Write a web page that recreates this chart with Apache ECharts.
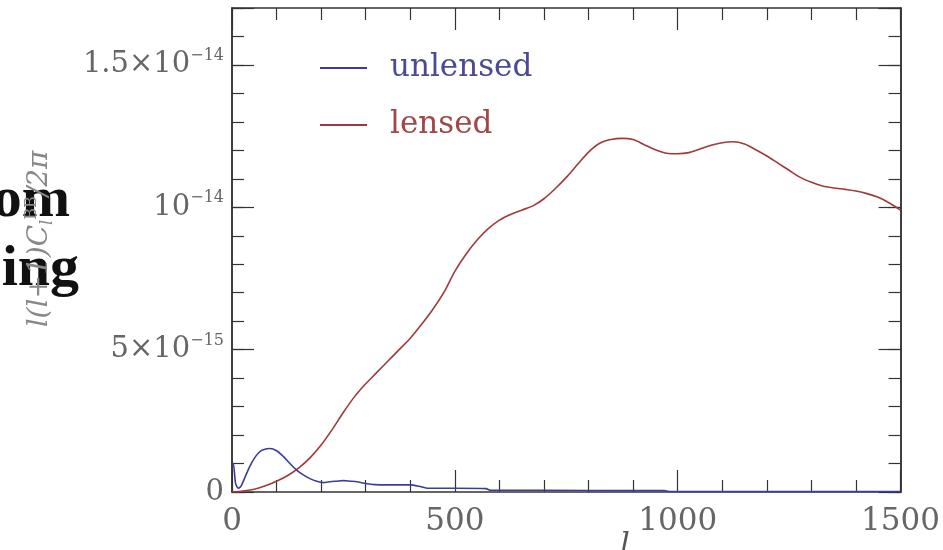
<!DOCTYPE html>
<html>
<head>
<meta charset="utf-8">
<script src="https://cdn.jsdelivr.net/npm/echarts@6/dist/echarts.min.js"></script>
</head>
<body style="margin:0;background:#fff">
<div id="main" style="width:943px;height:550px;"></div>
<script>
// values in units of 1e-15
var lensedL = [0, 25, 50, 75, 100, 125, 150, 175, 200, 225, 250, 275, 300, 325, 350, 375, 400,
    425, 450, 475, 500, 525, 550, 575, 600, 625, 650, 675, 700, 725, 750, 775, 800,
    825, 850, 875, 900, 925, 950, 975, 1000, 1025, 1050, 1075, 1100, 1125, 1150, 1175, 1200,
    1225, 1250, 1275, 1300, 1325, 1350, 1375, 1400, 1425, 1450, 1475, 1500];
var lensed = [0, 0.03, 0.1, 0.22, 0.38, 0.58, 0.85, 1.2, 1.65, 2.2, 2.8, 3.35, 3.8, 4.2, 4.6, 5.0, 5.4,
    5.88, 6.4, 7.0, 7.75, 8.35, 8.85, 9.25, 9.55, 9.75, 9.9, 10.05, 10.3, 10.65, 11.05, 11.5, 11.94,
    12.25, 12.38, 12.42, 12.38, 12.2, 12.02, 11.9, 11.88, 11.92, 12.05, 12.18, 12.27, 12.3, 12.22, 12.02, 11.8,
    11.55, 11.3, 11.05, 10.88, 10.75, 10.68, 10.63, 10.57, 10.48, 10.35, 10.15, 9.9];

var unlensedL = [0, 3, 8, 14, 20, 30, 40, 50, 60, 70, 85, 100, 115, 130, 145, 160, 175, 190,
    205, 220, 235, 250, 265, 280, 300, 320, 350, 400, 420, 440, 500, 570, 580, 700, 900, 970, 980, 1200, 1500];
var unlensed = [1.0, 1.0, 0.3, 0.13, 0.2, 0.55, 0.9, 1.18, 1.38, 1.48, 1.53, 1.45, 1.25, 1.0, 0.77, 0.6, 0.47, 0.38,
    0.33, 0.36, 0.38, 0.4, 0.38, 0.36, 0.3, 0.26, 0.25, 0.25, 0.2, 0.13, 0.13, 0.12, 0.06, 0.06, 0.05, 0.05, 0.02, 0.02, 0.02];

var xTicks = [0, 500, 1000, 1500];
var yTickValues = [0, 5, 10, 15];
var yTickBase = ['0', '5×10', '10', '1.5×10'];
var yTickExp = ['', '−15', '−14', '−14'];

var axisColor = '#333';
var labelColor = '#666';
var labelFont = 'DejaVu Serif';

var myChart = echarts.init(document.getElementById('main'));

function pairs(xs, ys) {
    return xs.map(function (x, i) { return [x, ys[i]]; });
}

var lineStyleAxis = {color: axisColor, width: 1.5};
var tickStyle = {color: axisColor, width: 1.2};

function yAxisDef(pos, interval, len, withLabels) {
    var a = {
        type: 'value', min: 0, max: 17, interval: interval, position: pos,
        axisLine: {show: true, onZero: false, lineStyle: lineStyleAxis},
        axisTick: {show: true, inside: true, length: len, lineStyle: tickStyle},
        splitLine: {show: false},
        axisLabel: {show: false}
    };
    if (withLabels) {
        a.axisLabel = {
            show: true, margin: 8,
            formatter: function (v) {
                var i = yTickValues.indexOf(v);
                if (i < 0) return '';
                return yTickExp[i] ? '{b|' + yTickBase[i] + '}{s|' + yTickExp[i] + '}' : '{b|' + yTickBase[i] + '}';
            },
            rich: {
                b: {fontFamily: labelFont, fontSize: 29, color: labelColor, lineHeight: 34},
                s: {fontFamily: labelFont, fontSize: 16, color: labelColor, lineHeight: 20, verticalAlign: 'top'}
            }
        };
        a.name = '{a|l(l+1)C}{b|l}{c|BB}{a|/2π}';
        a.nameLocation = 'middle';
        a.nameGap = 176;
        a.nameRotate = 90;
        a.nameTextStyle = {
            padding: [0, 0, 0, 22],
            rich: {
                a: {fontFamily: labelFont, fontStyle: 'italic', fontSize: 28, color: '#888', lineHeight: 32},
                b: {fontFamily: labelFont, fontStyle: 'italic', fontSize: 16, color: '#888', verticalAlign: 'bottom', lineHeight: 18},
                c: {fontFamily: labelFont, fontSize: 16, color: '#888', verticalAlign: 'top', lineHeight: 18}
            }
        };
    }
    return a;
}

function xAxisDef(pos, withLabels) {
    return {
        type: 'value', min: 0, max: 1500, interval: 500, position: pos,
        axisLine: {show: true, onZero: false, lineStyle: lineStyleAxis},
        axisTick: {show: true, inside: true, length: 22, lineStyle: tickStyle},
        minorTick: {show: true, splitNumber: 5, length: 12, lineStyle: tickStyle},
        splitLine: {show: false},
        axisLabel: {
            show: withLabels, margin: 14, fontFamily: labelFont, fontSize: 31, color: labelColor,
            formatter: function (v) { return xTicks.indexOf(v) >= 0 ? String(v) : ''; }
        }
    };
}

var legendBase = {
    orient: 'vertical', left: 320, padding: 0, icon: 'rect', itemWidth: 47, itemHeight: 2,
    selectedMode: false
};

var option = {
    animation: false,
    backgroundColor: '#fff',
    grid: {left: 232, right: 40, top: 8, bottom: 58},
    legend: [
        Object.assign({}, legendBase, {
            top: 46,
            data: [{name: 'unlensed', textStyle: {color: '#4b4b95'}}],
            textStyle: {fontFamily: labelFont, fontSize: 31, lineHeight: 34, padding: [0, 0, 10, 18]}
        }),
        Object.assign({}, legendBase, {
            top: 103,
            data: [{name: 'lensed', textStyle: {color: '#a04848'}}],
            textStyle: {fontFamily: labelFont, fontSize: 31, lineHeight: 34, padding: [0, 0, 10, 18]}
        })
    ],
    xAxis: [xAxisDef('bottom', true), xAxisDef('top', false)],
    yAxis: [
        yAxisDef('left', 5, 22, true),
        yAxisDef('left', 1, 12, false),
        yAxisDef('right', 5, 22, false),
        yAxisDef('right', 1, 12, false)
    ],
    graphic: [
        {type: 'text', x: 70, y: 201, z: 0, style: {text: 'om', font: 'bold 58px "Liberation Serif"', fill: '#111', align: 'right', verticalAlign: 'middle'}},
        {type: 'text', x: 79, y: 270, z: 0, style: {text: 'ing', font: 'bold 58px "Liberation Serif"', fill: '#111', align: 'right', verticalAlign: 'middle'}},
        {type: 'text', x: 625, y: 545, style: {text: 'l', font: 'italic 30px "DejaVu Serif"', fill: '#555', align: 'center', verticalAlign: 'middle'}}
    ],
    series: [
        {
            name: 'lensed', type: 'line', xAxisIndex: 0, yAxisIndex: 0,
            data: pairs(lensedL, lensed), smooth: 0.3, showSymbol: false,
            lineStyle: {color: '#a03a3a', width: 1.6}, itemStyle: {color: '#a03a3a'}
        },
        {
            name: 'unlensed', type: 'line', xAxisIndex: 0, yAxisIndex: 0,
            data: pairs(unlensedL, unlensed), smooth: 0.2, showSymbol: false,
            lineStyle: {color: '#3c3c9c', width: 1.6}, itemStyle: {color: '#3c3c9c'}
        }
    ]
};
myChart.setOption(option);
</script>
</body>
</html>
